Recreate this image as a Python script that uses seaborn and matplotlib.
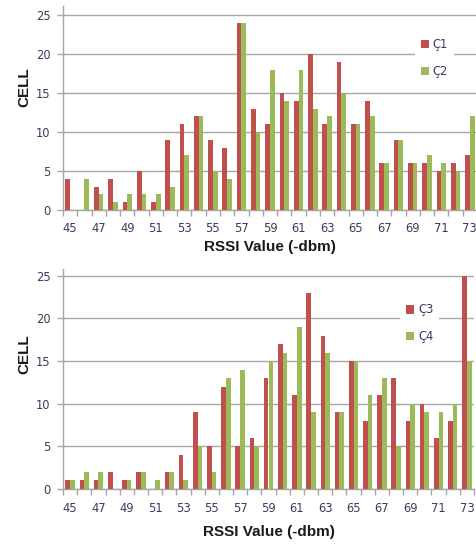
import numpy as np
import pandas as pd
import matplotlib
matplotlib.use("Agg")
import matplotlib.pyplot as plt
import seaborn as sns
from matplotlib.patches import Patch

rssi = list(range(45, 74))
c1 = [4, 0, 3, 4, 1, 5, 1, 9, 11, 12, 9, 8, 24, 13, 11, 15, 14, 20, 11, 19, 11, 14, 6, 9, 6, 6, 5, 6, 7]
c2 = [0, 4, 2, 1, 2, 2, 2, 3, 7, 12, 5, 4, 24, 10, 18, 14, 18, 13, 12, 15, 11, 12, 6, 9, 6, 7, 6, 5, 12]
c3 = [1, 1, 1, 2, 1, 2, 0, 2, 4, 9, 5, 12, 5, 6, 13, 17, 11, 23, 18, 9, 15, 8, 11, 13, 8, 10, 6, 8, 25]
c4 = [1, 2, 2, 0, 1, 2, 1, 2, 1, 5, 2, 13, 14, 5, 15, 16, 19, 9, 16, 9, 15, 11, 13, 5, 10, 9, 9, 10, 15]
tick_labels = [str(v) for v in rssi[::2]]
x_title = "RSSI Value (-dbm)"
y_title = "CELL"
RED = "#C0504D"
GREEN = "#9BBB59"
TXT = "#3A3A5C"
GRID = "#A6A6A6"

sns.set_theme(style="white")
plt.rcParams["font.family"] = ["DejaVu Sans"]

W, H = 477, 544
fig = plt.figure(figsize=(W / 100, H / 100), dpi=100)

def px_axes(left, right, top, bottom):
    return fig.add_axes([left / W, 1 - bottom / H, (right - left) / W, (bottom - top) / H])

def draw(ax, a, b, na, nb, ytop, leg_anchor, ylab_y, xlab_y):
    df = pd.DataFrame({
        "rssi": rssi * 2,
        "cell": a + b,
        "series": [na] * len(rssi) + [nb] * len(rssi),
    })
    sns.barplot(data=df, x="rssi", y="cell", hue="series", order=rssi,
                hue_order=[na, nb], palette=[RED, GREEN], width=0.66,
                saturation=1, ax=ax, legend=False, edgecolor="none", zorder=3)
    ax.set_ylim(0, ytop)
    ax.set_xlim(-0.5, len(rssi) - 0.5)
    ax.set_yticks([0, 5, 10, 15, 20, 25])
    ax.yaxis.grid(True, color=GRID, linewidth=1.0, zorder=0)
    ax.set_axisbelow(True)
    for s in ["top", "right"]:
        ax.spines[s].set_visible(False)
    for s in ["left", "bottom"]:
        ax.spines[s].set_color(GRID)
        ax.spines[s].set_linewidth(1.0)
    ax.set_xticks(np.arange(0, len(rssi), 2))
    ax.set_xticklabels(tick_labels)
    ax.set_xticks(np.arange(-0.5, len(rssi), 1), minor=True)
    ax.tick_params(axis="x", which="major", length=0, pad=9, labelsize=8.3, labelcolor=TXT)
    ax.tick_params(axis="x", which="minor", length=4, width=1, color=GRID, direction="out", bottom=True)
    ax.tick_params(axis="y", length=4, width=1, color=GRID, direction="out", left=True,
                   pad=5, labelsize=8.3, labelcolor=TXT)
    ax.set_xlabel(x_title, fontsize=11, fontweight="bold", family="Liberation Sans", color="#1A1A1A")
    ax.set_ylabel(y_title, fontsize=11, fontweight="bold", family="Liberation Sans", color="#1A1A1A")
    ax.xaxis.set_label_coords(0.5, xlab_y)
    ax.yaxis.set_label_coords(-0.076, ylab_y)
    handles = [Patch(facecolor=RED, edgecolor="none"), Patch(facecolor=GREEN, edgecolor="none")]
    leg = ax.legend(handles, [na, nb], loc="upper left", bbox_to_anchor=leg_anchor,
                    frameon=True, fancybox=False, framealpha=1, edgecolor="none",
                    facecolor="white", fontsize=8.3, labelspacing=1.2, handlelength=0.75,
                    handleheight=0.75, handletextpad=0.3, borderpad=0.5, borderaxespad=0)
    for t in leg.get_texts():
        t.set_color(TXT)
    leg.set_zorder(5)

ax1 = px_axes(63, 477, 5.6, 210)
draw(ax1, c1, c2, "Ç1", "Ç2", 26.2, (0.85, 0.87), 0.60, -0.148)
ax2 = px_axes(63, 474, 269, 489)
draw(ax2, c3, c4, "Ç3", "Ç4", 25.8, (0.82, 0.87), 0.614, -0.165)

fig.savefig("out.png", dpi=100)
